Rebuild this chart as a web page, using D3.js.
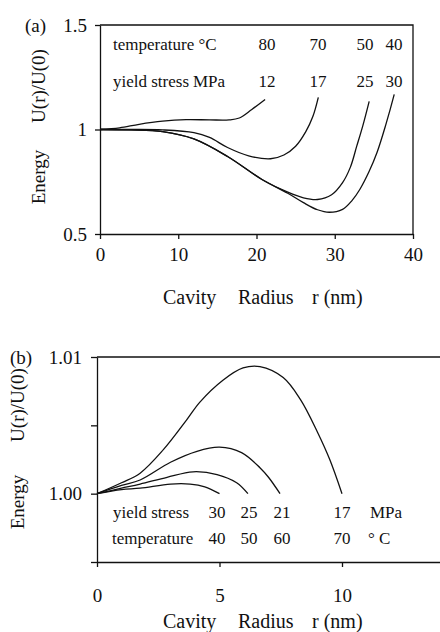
<!DOCTYPE html>
<html>
<head>
<meta charset="utf-8">
<script src="https://cdn.jsdelivr.net/npm/d3@7"></script>
<style>
  body { margin: 0; background: #fff; }
  svg { display: block; }
  svg text { fill: #111; font-family: "Liberation Serif", "DejaVu Serif", "Noto Serif", "Times New Roman", Times, serif; }
</style>
</head>
<body>
<svg id="chart" width="440" height="632"></svg>
<script>
// panel (a): energy vs cavity radius, r in nm, U(r)/U(0)
const aTemps = ["80", "70", "50", "40"]
const aStress = ["12", "17", "25", "30"]
const a80 = [[0,1],[2.5,1.008],[5,1.025],[8,1.04],[11,1.047],[14,1.046],[16.5,1.046],[17.8,1.055],[19.4,1.096],[21.1,1.144]]
const a70 = [[0,1],[4,1.0],[8,0.998],[12,0.985],[14,0.962],[16.3,0.914],[19,0.874],[21.8,0.86],[23.5,0.878],[25,0.92],[26.3,0.99],[27.2,1.062],[27.9,1.154]]
const a50 = [[0,1],[4,0.998],[8,0.99],[12,0.955],[16.3,0.871],[20.7,0.761],[24,0.7],[26,0.673],[27.8,0.665],[29.6,0.688],[31,0.746],[32,0.82],[32.8,0.919],[33.6,1.02],[34.4,1.135]]
const a40 = [[0,1],[4,0.998],[8,0.99],[12,0.955],[16.3,0.871],[20.7,0.761],[24,0.695],[26,0.65],[27.8,0.616],[29.3,0.604],[31,0.618],[32.2,0.66],[33.2,0.713],[34.4,0.8],[35.4,0.89],[36.5,1.02],[37.6,1.168]]
const aXTicks = [0, 10, 20, 30, 40]
const aYTicks = [0.5, 1, 1.5]
const aYLabels = ["0.5", "1", "1.5"]

// panel (b)
const bStress = ["30", "25", "21", "17"]
const bTemps = ["40", "50", "60", "70"]
const b17 = [[0,1],[1,1.0008],[1.76,1.0015],[2.7,1.0032],[3.66,1.0054],[4.2,1.0067],[5.14,1.0083],[5.96,1.0092],[6.65,1.0093],[7.6,1.0085],[8.3,1.0069],[9,1.0045],[9.5,1.0025],[10,1.0]]
const b21 = [[0,1],[1,1.0006],[1.76,1.001],[3,1.0023],[4.08,1.0031],[5,1.0034],[5.9,1.003],[6.65,1.0019],[7.0,1.0012],[7.47,1.0]]
const b25 = [[0,1],[1,1.0004],[1.76,1.0007],[2.86,1.0012],[3.92,1.0016],[4.9,1.0014],[5.7,1.0008],[6.16,1.0]]
const b30 = [[0,1],[1,1.0003],[1.76,1.0004],[3,1.0007],[3.8,1.0007],[4.4,1.0005],[5,1.0]]
const bXTicks = [0, 5, 10]
const bYTicks = [0.995, 1.0, 1.005, 1.01]
const bYLabels = {"1": "1.00", "1.01": "1.01"}

const svg = d3.select("#chart")
const ink = "#111"

let line = (x, y) => d3.line()
    .x(d => x(d[0]))
    .y(d => y(d[1]))
    .curve(d3.curveCatmullRom.alpha(0.5))

let styleAxis = g => {
    g.attr("font-family", null).attr("font-size", null)
    g.selectAll("path.domain").attr("stroke", ink).attr("stroke-width", 1.3)
    g.selectAll(".tick line").attr("stroke", ink).attr("stroke-width", 1.3)
    g.selectAll("text").attr("font-size", 19)
}

// ---------- panel (a) ----------
let ax = d3.scaleLinear().domain([0, 40]).range([100, 413])
let ay = d3.scaleLinear().domain([0.5, 1.5]).range([234, 25])

let gax = svg.append("g").attr("transform", `translate(0,${ay(0.5)})`)
    .call(d3.axisBottom(ax).tickValues(aXTicks).tickSize(5).tickSizeOuter(0).tickPadding(9).tickFormat(d3.format("d")))
styleAxis(gax)
let gay = svg.append("g").attr("transform", `translate(${ax(0)},0)`)
    .call(d3.axisLeft(ay).tickValues(aYTicks).tickSize(5).tickSizeOuter(0).tickPadding(8)
        .tickFormat((d, i) => aYLabels[i]))
styleAxis(gay)

// frame top + right
svg.append("path")
    .attr("d", `M${ax(0)},${ay(1.5)}H${ax(40)}V${ay(0.5)}`)
    .attr("fill", "none").attr("stroke", ink).attr("stroke-width", 1.3)

let aLine = line(ax, ay)
for (let s of [a80, a70, a50, a40]) {
    svg.append("path").attr("d", aLine(s))
        .attr("fill", "none").attr("stroke", ink).attr("stroke-width", 1.3)
}

svg.append("text").attr("x", 25).attr("y", ay(1.5)).attr("dy", "0.35em")
    .attr("font-size", 19).text("(a)")

// legend rows
let aCols = [267, 318, 365, 394]
svg.append("text").attr("x", 113).attr("y", 50).attr("font-size", 17).text("temperature °C")
svg.append("text").attr("x", 113).attr("y", 87).attr("font-size", 17).text("yield stress")
svg.append("text").attr("x", 193).attr("y", 87).attr("font-size", 17).text("MPa")
aTemps.forEach((t, i) => svg.append("text").attr("x", aCols[i]).attr("y", 50)
    .attr("text-anchor", "middle").attr("font-size", 17).text(t))
aStress.forEach((t, i) => svg.append("text").attr("x", aCols[i]).attr("y", 87)
    .attr("text-anchor", "middle").attr("font-size", 17).text(t))

// axis titles
let xTitle = (y) => {
    svg.append("text").attr("x", 163).attr("y", y).attr("font-size", 20).text("Cavity")
    svg.append("text").attr("x", 238).attr("y", y).attr("font-size", 20).text("Radius")
    svg.append("text").attr("x", 312).attr("y", y).attr("font-size", 20).text("r (nm)")
}
xTitle(304)

let yTitle = (x, yEnergy, yU) => {
    svg.append("text").attr("transform", `translate(${x},${yEnergy}) rotate(-90)`)
        .attr("text-anchor", "middle").attr("font-size", 19).text("Energy")
    svg.append("text").attr("transform", `translate(${x},${yU}) rotate(-90)`)
        .attr("text-anchor", "middle").attr("font-size", 19).text("U(r)/U(0)")
}
yTitle(45, 177, 86)

// ---------- panel (b) ----------
let bx = d3.scaleLinear().domain([0, 14]).range([97, 440])
let by = d3.scaleLinear().domain([0.995, 1.01]).range([562, 357])

let gbx = svg.append("g").attr("transform", `translate(0,${by(0.995)})`)
    .call(d3.axisBottom(bx).tickValues(bXTicks).tickSize(5).tickSizeOuter(0).tickPadding(22).tickFormat(d3.format("d")))
styleAxis(gbx)
let gby = svg.append("g").attr("transform", `translate(${bx(0)},0)`)
    .call(d3.axisLeft(by).tickValues(bYTicks).tickSize(6).tickSizeOuter(0).tickPadding(9)
        .tickFormat(d => bYLabels[String(+d.toFixed(3))] || ""))
styleAxis(gby)

svg.append("path")
    .attr("d", `M${bx(0)},${by(1.01)}H${bx(14)}`)
    .attr("fill", "none").attr("stroke", ink).attr("stroke-width", 1.3)

let bLine = line(bx, by)
for (let s of [b17, b21, b25, b30]) {
    svg.append("path").attr("d", bLine(s))
        .attr("fill", "none").attr("stroke", ink).attr("stroke-width", 1.3)
}

svg.append("text").attr("x", 10).attr("y", by(1.01)).attr("dy", "0.35em")
    .attr("font-size", 19).text("(b)")

let bCols = [217, 249, 282, 342]
svg.append("text").attr("x", 113).attr("y", 518).attr("font-size", 17).text("yield stress")
svg.append("text").attr("x", 112).attr("y", 544).attr("font-size", 17).text("temperature")
bStress.forEach((t, i) => svg.append("text").attr("x", bCols[i]).attr("y", 518)
    .attr("text-anchor", "middle").attr("font-size", 17).text(t))
bTemps.forEach((t, i) => svg.append("text").attr("x", bCols[i]).attr("y", 544)
    .attr("text-anchor", "middle").attr("font-size", 17).text(t))
svg.append("text").attr("x", 370).attr("y", 518).attr("font-size", 17).text("MPa")
svg.append("text").attr("x", 368).attr("y", 544).attr("font-size", 17).text("° C")

xTitle(628)
yTitle(24, 502, 405)
</script>
</body>
</html>
